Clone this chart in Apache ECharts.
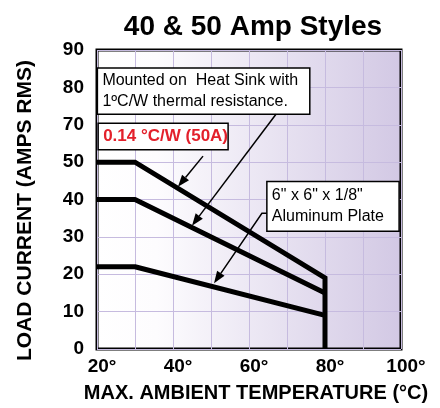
<!DOCTYPE html>
<html><head><meta charset="utf-8">
<script src="https://cdn.jsdelivr.net/npm/echarts@6/dist/echarts.min.js"></script>
<style>html,body{margin:0;padding:0;background:#fff}#c{width:440px;height:408px}</style>
</head><body><div id="c"></div>
<script>
// ---- data ----
const temps = [20, 30, 80];
const curve50 = [50, 50, 19];     // 0.14 °C/W (50A)
const curve40 = [40, 40, 15];     // 1 °C/W heat sink
const curvePlate = [22, 22, 9];   // 6" x 6" x 1/8" aluminum plate
const xTickLabels = ['20°', '', '40°', '', '60°', '', '80°', '', '100°'];
const yTickLabels = ['0', '10', '20', '30', '40', '50', '70', '80', '90'];
const titleText = '40 & 50 Amp Styles';
const xName = 'MAX. AMBIENT TEMPERATURE (°C)';
const yName = 'LOAD CURRENT (AMPS RMS)';

const FONT = 'Liberation Sans, Arial, Helvetica, sans-serif';
const chart = echarts.init(document.getElementById('c'), null, {renderer: 'canvas'});

function pts(ys) { return temps.map((t, i) => [t, ys[i]]); }
const top50 = pts(curve50).concat([[temps[temps.length - 1], 0]]);

chart.setOption({
  animation: false,
  backgroundColor: '#fff',
  title: {
    text: titleText, left: 248, top: 8, textAlign: 'center',
    textStyle: {fontFamily: FONT, fontSize: 28, fontWeight: 'bold', color: '#000'}
  },
  grid: {
    left: 97, right: 39, top: 50, bottom: 56, show: true,
    borderColor: '#000', borderWidth: 3,
    backgroundColor: {type: 'linear', x: 0, y: 0, x2: 1, y2: 0,
      colorStops: [{offset: 0, color: '#ffffff'}, {offset: 0.2, color: '#fdfcfe'}, {offset: 1, color: '#d2c8e4'}]}
  },
  xAxis: {
    type: 'value', min: 20, max: 100, interval: 10,
    axisLine: {show: false}, axisTick: {show: false},
    splitLine: {show: true, lineStyle: {color: '#c6bbdf', width: 1}},
    axisLabel: {
      margin: 8, color: '#000', fontFamily: FONT, fontSize: 19, fontWeight: 'bold',
      padding: [0, 0, 0, 10],
      formatter: v => xTickLabels[Math.round((v - 20) / 10)] || ''
    },
    name: xName, nameLocation: 'middle', nameGap: 34,
    nameTextStyle: {color: '#000', fontFamily: FONT, fontSize: 20, fontWeight: 'bold', padding: [0, 0, 0, 14]}
  },
  yAxis: {
    type: 'value', min: 0, max: 80, interval: 10,
    axisLine: {show: false}, axisTick: {show: false},
    splitLine: {show: true, lineStyle: {color: '#c6bbdf', width: 1}},
    axisLabel: {
      margin: 13, color: '#000', fontFamily: FONT, fontSize: 19, fontWeight: 'bold',
      formatter: v => yTickLabels[Math.round(v / 10)] || ''
    },
    name: yName, nameLocation: 'middle', nameGap: 61,
    nameTextStyle: {color: '#000', fontFamily: FONT, fontSize: 21, fontWeight: 'bold', padding: [0, 22, 0, 0]}
  },
  series: [
    {type: 'line', data: top50, showSymbol: false, symbol: 'none', lineStyle: {color: '#000', width: 5, join: 'miter'}, z: 5},
    {type: 'line', data: pts(curve40), showSymbol: false, symbol: 'none', lineStyle: {color: '#000', width: 5}, z: 5},
    {type: 'line', data: pts(curvePlate), showSymbol: false, symbol: 'none', lineStyle: {color: '#000', width: 5}, z: 5}
  ]
});

// ---- annotations (placed in data coordinates) ----
const P = (x, y) => chart.convertToPixel({gridIndex: 0}, [x, y]);
function box(x0, y0, x1, y1, text, style) {
  const a = P(x0, y0), b = P(x1, y1);
  return [
    {type: 'rect', shape: {x: a[0], y: a[1], width: b[0] - a[0], height: b[1] - a[1]},
     style: {fill: '#fff', stroke: '#000', lineWidth: 1.5}, z: 20},
    {type: 'text', x: a[0] + 5, y: (a[1] + b[1]) / 2,
     style: Object.assign({text: text, fill: '#000', font: '16px ' + FONT, verticalAlign: 'middle', align: 'left', lineHeight: 21}, style || {}), z: 21}
  ];
}
function arrow(coords) {
  const p = coords.map(c => P(c[0], c[1]));
  const n = p.length, tip = p[n - 1], prev = p[n - 2];
  const dx = tip[0] - prev[0], dy = tip[1] - prev[1], L = Math.hypot(dx, dy);
  const ux = dx / L, uy = dy / L, len = 12, w = 4.5;
  const bx = tip[0] - ux * len, by = tip[1] - uy * len;
  const line = p.slice(0, n - 1).concat([[bx, by]]);
  return [
    {type: 'polyline', shape: {points: line}, style: {stroke: '#000', lineWidth: 1.5, fill: null}, z: 22},
    {type: 'polygon', shape: {points: [tip, [bx - uy * w, by + ux * w], [bx + uy * w, by - ux * w]]},
     style: {fill: '#000'}, z: 22}
  ];
}
const g = [].concat(
  box(20.1, 75.2, 76.0, 62.8, 'Mounted on  Heat Sink with\n1ºC/W thermal resistance.'),
  box(20.3, 60.4, 54.5, 53.3, '0.14 °C/W (50A)', {fill: '#e3202b', font: 'bold 17px ' + FONT}),
  box(64.7, 44.8, 99.5, 31.5, '6" x 6" x 1/8"\nAluminum Plate'),
  arrow([[47.9, 51.6], [41.3, 43.4]]),
  arrow([[67.1, 62.8], [45.0, 33.0]]),
  arrow([[64.7, 36.3], [63.4, 36.3], [50.8, 17.6]])
);
chart.setOption({graphic: g});
</script>
</body></html>
